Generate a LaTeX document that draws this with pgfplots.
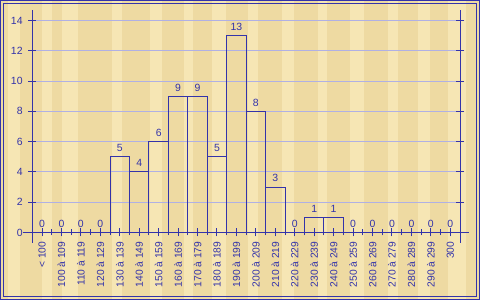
\documentclass[border=0pt]{standalone}
\usepackage{fontspec}
\setmainfont{Liberation Sans}
\usepackage{pgfplots}
\pgfplotsset{compat=1.18}
\definecolor{ablue}{RGB}{51,51,170}
\definecolor{gridc}{RGB}{176,176,228}
\definecolor{wood}{RGB}{238,218,162}
\definecolor{woodl}{RGB}{246,230,180}
\begin{document}
\begin{tikzpicture}[x=1bp,y=1bp]
\fill[wood] (0,0) rectangle (480,300);
\foreach \s/\w in {8/12,42/10,62/16,112/10,150/12,184/9,212/14,248/10,282/12,318/9,350/14,388/10,418/12,448/18}{
  \fill[woodl] (\s,0) rectangle ({\s+\w},300);
}
\draw[ablue,line width=1bp] (0.5,0.5) rectangle (479.5,299.5);
\draw[ablue,line width=1bp] (3.5,3.5) rectangle (476.5,296.5);
\useasboundingbox (0,0) rectangle (480,300);
\begin{axis}[
  at={(32.3bp,67.6bp)}, anchor=south west,
  scale only axis, width=427.7bp, height=222.4bp,
  xmin=-0.5, xmax=21.5, ymin=0, ymax=14.7,
  clip=false,
  axis line style={draw=none},
  ybar, bar width=1,
  ytick={0,2,...,14},
  yticklabel pos=left,
  ymajorgrids, grid style={gridc, line width=1bp},
  xtick={0,...,21},
  minor xtick={0.5,1.5,...,20.5},
  xtick pos=bottom,
  xticklabels={{< 100},{100 à 109},{110 à 119},{120 à 129},{130 à 139},{140 à 149},{150 à 159},{160 à 169},{170 à 179},{180 à 189},{190 à 199},{200 à 209},{210 à 219},{220 à 229},{230 à 239},{240 à 249},{250 à 259},{260 à 269},{270 à 279},{280 à 289},{290 à 299},{300}},
  tick style={ablue, line width=1bp},
  tick align=center,
  major tick length=8bp, minor tick length=6bp,
  /pgf/number format/assume math mode=true,
  yticklabel style={font=\fontsize{10.5}{12}\selectfont, text=ablue, inner sep=0pt, xshift=-5.5bp},
  xticklabel style={font=\fontsize{10.3}{12}\selectfont, text=ablue, yshift=-5bp, rotate=90, anchor=east, inner sep=0pt},
  nodes near coords,
  every node near coord/.append style={font=\fontsize{10.5}{12}\selectfont, text=ablue, inner sep=0pt, anchor=south, yshift=4.5bp},
]
\addplot[draw=ablue, fill=none, line width=1bp] coordinates {
(0,0) (1,0) (2,0) (3,0) (4,5) (5,4) (6,6) (7,9) (8,9) (9,5) (10,13)
(11,8) (12,3) (13,0) (14,1) (15,1) (16,0) (17,0) (18,0) (19,0) (20,0) (21,0)};
\draw[ablue,line width=1bp] (axis cs:-0.5,-0.7) -- (axis cs:-0.5,14.7);
\draw[ablue,line width=1bp] (axis cs:21.5,-0.7) -- (axis cs:21.5,14.7);
\draw[ablue,line width=1bp] (axis cs:-0.99,0) -- (axis cs:21.96,0);
\end{axis}
\end{tikzpicture}
\end{document}
